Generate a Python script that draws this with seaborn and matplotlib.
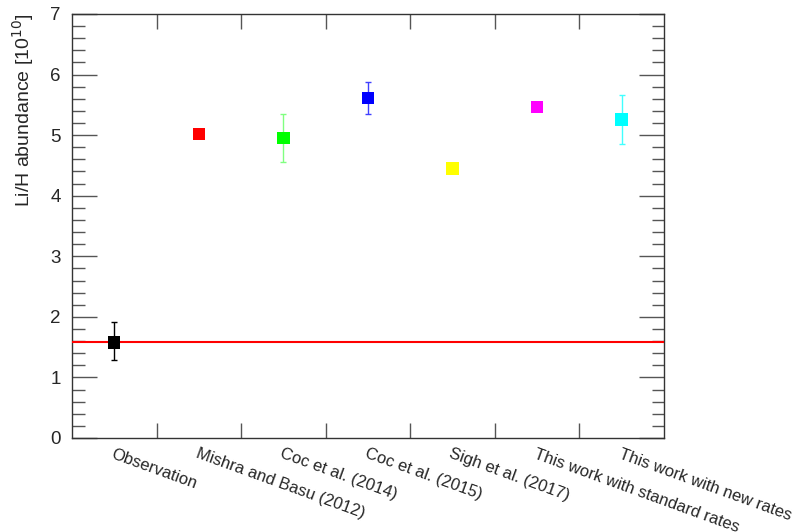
import numpy as np
import pandas as pd
import matplotlib
matplotlib.use("Agg")
import matplotlib.pyplot as plt
from matplotlib.ticker import MultipleLocator, FixedLocator
import seaborn as sns

# Li/H abundance (in units of 10^-10) from observation and BBN predictions
sources = ["Observation", "Mishra and Basu (2012)", "Coc et al. (2014)",
           "Coc et al. (2015)", "Sigh et al. (2017)",
           "This work with standard rates", "This work with new rates"]
li_h = [1.58, 5.02, 4.95, 5.61, 4.45, 5.46, 5.26]
err_up = [0.34, 0.0, 0.40, 0.26, 0.0, 0.0, 0.40]
err_lo = [0.30, 0.0, 0.39, 0.26, 0.0, 0.0, 0.41]
colors = ["#000000", "#ff0000", "#00ff00", "#0000ff", "#ffff00", "#ff00ff", "#00ffff"]
err_colors = ["#000000", "#ff0000", "#80ff80", "#4040ff", "#ffff00", "#ff00ff", "#40ffff"]
observed_level = 1.58

sns.set_theme(style="white")
plt.rcParams["font.family"] = ["Liberation Sans", "DejaVu Sans"]

df = pd.DataFrame({"source": sources, "li_h": li_h})

fig = plt.figure(figsize=(7.97, 5.32), dpi=100)
ax = fig.add_axes([0.0903, 0.1767, 0.7428, 0.797])

pos = np.arange(len(sources))
for i in range(len(sources)):
    if err_up[i] > 0 or err_lo[i] > 0:
        ax.errorbar(pos[i], li_h[i], yerr=[[err_lo[i]], [err_up[i]]], fmt="none",
                    ecolor=err_colors[i], elinewidth=1.0, capsize=2.5, capthick=1.0,
                    zorder=2)

ax.axhline(observed_level, color="red", lw=1.5, zorder=3)

sns.scatterplot(data=df, x="source", y="li_h", hue="source", palette=colors,
                marker="s", s=80, linewidth=0, legend=False, ax=ax, zorder=4)

ax.set_xlim(-0.5, len(sources) - 0.5)
ax.set_ylim(0, 7)

# y axis: labelled major ticks and 0.2 minor ticks, drawn inside on both sides
ax.yaxis.set_major_locator(MultipleLocator(1))
ax.yaxis.set_minor_locator(MultipleLocator(0.2))
ax.tick_params(axis="y", which="major", direction="in", length=18, width=1.0,
               color="#555555", left=True, right=True, labelsize=13.5, pad=8)
ax.tick_params(axis="y", which="minor", direction="in", length=9, width=1.0,
               color="#555555", left=True, right=True)

# x axis: category labels at bin centres, tick marks at bin boundaries
ax.xaxis.set_major_locator(FixedLocator(pos))
ax.xaxis.set_minor_locator(FixedLocator(pos[:-1] + 0.5))
ax.set_xticks(pos)
ax.set_xticklabels(sources, rotation=-20, ha="left", va="top",
                   rotation_mode="anchor", fontsize=12)
ax.tick_params(axis="x", which="major", length=0, pad=6)
ax.tick_params(axis="x", which="minor", direction="in", length=11, width=1.0,
               color="#555555", bottom=True, top=True)

ax.set_xlabel("")
ax.set_ylabel("Li/H abundance [10$^{10}$]", fontsize=14, loc="top", labelpad=10)

for side in ["left", "right", "top", "bottom"]:
    ax.spines[side].set_visible(True)
    ax.spines[side].set_color("#333333")
    ax.spines[side].set_linewidth(1.0)

fig.savefig("out.png", dpi=100)
